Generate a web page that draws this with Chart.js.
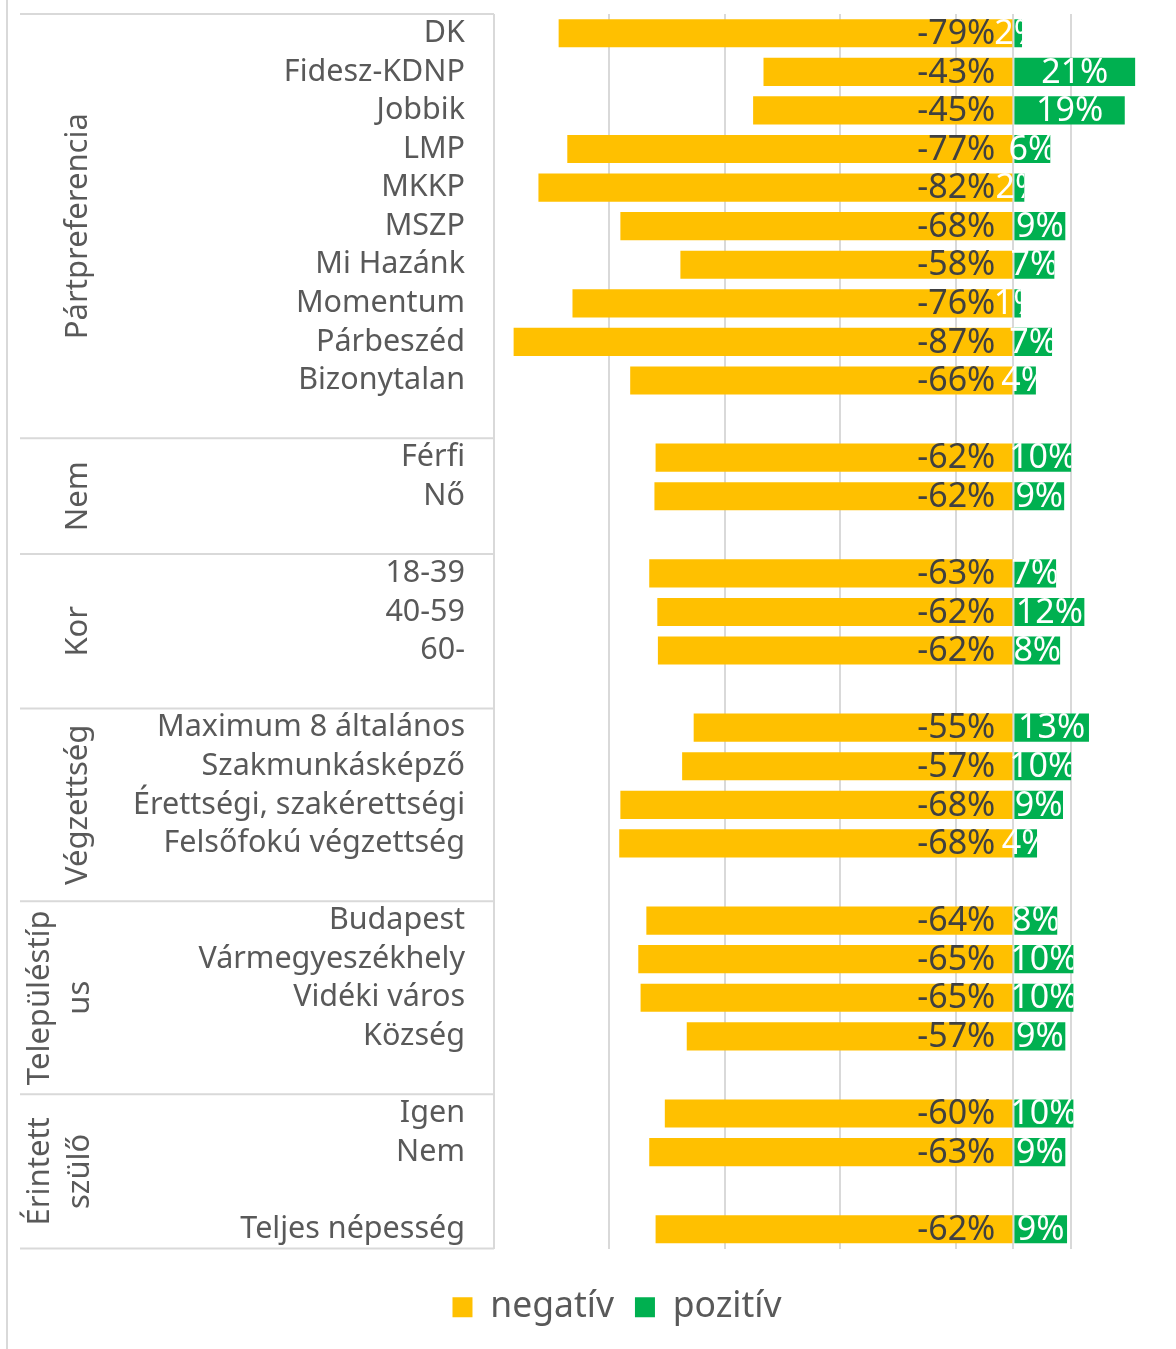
<!DOCTYPE html>
<html>
<head>
<meta charset="utf-8">
<script src="https://cdn.jsdelivr.net/npm/chart.js@4.4.1/dist/chart.umd.min.js"></script>
<style>
  html, body { margin: 0; padding: 0; background: #fff; }
  #wrap { width: 1176px; height: 1349px; }
</style>
</head>
<body>
<div id="wrap"><canvas id="chart" width="1176" height="1349"></canvas></div>
<script>
const categories = [
  'DK', 'Fidesz-KDNP', 'Jobbik', 'LMP', 'MKKP', 'MSZP', 'Mi Hazánk', 'Momentum', 'Párbeszéd', 'Bizonytalan', '',
  'Férfi', 'Nő', '',
  '18-39', '40-59', '60-', '',
  'Maximum 8 általános', 'Szakmunkásképző', 'Érettségi, szakérettségi', 'Felsőfokú végzettség', '',
  'Budapest', 'Vármegyeszékhely', 'Vidéki város', 'Község', '',
  'Igen', 'Nem', '',
  'Teljes népesség',
];

const negativ = [
  -78.8, -43.3, -45.1, -77.3, -82.3, -68.1, -57.7, -76.4, -86.6, -66.4, null,
  -62.0, -62.2, null,
  -63.1, -61.7, -61.6, null,
  -55.4, -57.4, -68.1, -68.3, null,
  -63.6, -65.0, -64.6, -56.6, null,
  -60.4, -63.1, null,
  -62.0,
];

const pozitiv = [
  1.5, 21.1, 19.3, 6.4, 1.9, 9.0, 7.1, 1.3, 6.7, 3.9, null,
  10.0, 8.8, null,
  7.4, 12.3, 8.1, null,
  13.1, 10.0, 8.6, 4.1, null,
  7.6, 10.4, 10.4, 9.0, null,
  10.4, 9.0, null,
  9.3,
];

// group captions (multi-line where Excel wrapped them) and the rows they cover
const groupNames  = [['Pártpreferencia'], ['Nem'], ['Kor'], ['Végzettség'], ['Településtíp', 'us'], ['Érintett', 'szülő']];
const groupStarts = [0, 11, 14, 18, 23, 28];
const groupEnds   = [11, 14, 18, 23, 28, 32];

const xTicks = [-90, -70, -50, -30, -10, 0, 10];

const FONT   = '"Noto Sans", "Open Sans", sans-serif';
const GRID   = '#d9d9d9';
const TEXT   = '#595959';
const YELLOW = '#FFC000';
const GREEN  = '#00B050';

const pct = (v) => Math.round(Math.abs(v)) + '%';

const barLabels = {
  id: 'barLabels',
  afterDatasetsDraw(chart) {
    const ctx = chart.ctx;
    ctx.save();
    ctx.font = `34px ${FONT}`;
    ctx.textBaseline = 'middle';

    chart.getDatasetMeta(0).data.forEach((bar, i) => {
      if (negativ[i] == null) return;
      ctx.fillStyle = '#404040';
      ctx.textAlign = 'right';
      ctx.fillText('-' + pct(negativ[i]), bar.base - 17, bar.y + 1);
    });

    chart.getDatasetMeta(1).data.forEach((bar, i) => {
      if (pozitiv[i] == null) return;
      ctx.save();
      ctx.beginPath();
      ctx.rect(0, bar.y - 30, bar.x, 60);
      ctx.clip();
      ctx.fillStyle = '#fff';
      ctx.textAlign = 'center';
      ctx.fillText(pct(pozitiv[i]), (bar.base + bar.x) / 2, bar.y + 1);
      ctx.restore();
    });
    ctx.restore();
  },
};

const groupPanel = {
  id: 'groupPanel',
  afterDraw(chart) {
    const ctx = chart.ctx;
    const area = chart.chartArea;
    const rowH = (area.bottom - area.top) / categories.length;
    const edge = (r) => area.top + r * rowH;

    ctx.save();
    ctx.strokeStyle = GRID;
    ctx.lineWidth = 2;

    // outer frame line on the left
    ctx.beginPath();
    ctx.moveTo(7, 0);
    ctx.lineTo(7, chart.height);
    ctx.stroke();

    const seps = [0].concat(groupEnds);
    seps.forEach((r) => {
      ctx.beginPath();
      ctx.moveTo(20, edge(r));
      ctx.lineTo(area.left, edge(r));
      ctx.stroke();
    });

    ctx.fillStyle = TEXT;
    ctx.font = `31px ${FONT}`;
    ctx.textAlign = 'center';
    ctx.textBaseline = 'middle';
    groupNames.forEach((lines, g) => {
      const yc = (edge(groupStarts[g]) + edge(groupEnds[g])) / 2;
      const xs = lines.length === 1 ? [78] : [40, 80];
      lines.forEach((txt, k) => {
        ctx.save();
        ctx.translate(xs[k], yc);
        ctx.rotate(-Math.PI / 2);
        ctx.fillText(txt, 0, 0);
        ctx.restore();
      });
    });
    ctx.restore();
  },
};

const shiftLegend = {
  id: 'shiftLegend',
  afterLayout(chart) {
    chart.legend.left += 29;
    chart.legend.right += 29;
  },
};

new Chart(document.getElementById('chart'), {
  type: 'bar',
  data: {
    labels: categories,
    datasets: [
      { label: 'negatív', data: negativ, backgroundColor: YELLOW, borderWidth: 0 },
      { label: 'pozitív', data: pozitiv, backgroundColor: GREEN, borderWidth: 0 },
    ],
  },
  options: {
    indexAxis: 'y',
    responsive: false,
    animation: false,
    events: [],
    barPercentage: 0.73,
    categoryPercentage: 1,
    layout: { padding: { top: 14, left: 0, right: 0, bottom: 14 } },
    plugins: {
      legend: {
        position: 'bottom',
        labels: {
          boxWidth: 20,
          boxHeight: 20,
          padding: 21,
          color: TEXT,
          font: { family: FONT, size: 35.5 },
        },
      },
      tooltip: { enabled: false },
    },
    scales: {
      x: {
        stacked: true,
        min: -90,
        max: 28.18,
        afterBuildTicks: (s) => { s.ticks = xTicks.map((v) => ({ value: v })); },
        afterFit: (s) => { s.height = 20; },
        ticks: { display: false },
        grid: { color: GRID, lineWidth: 2, drawTicks: false },
        border: { display: false },
      },
      y: {
        stacked: true,
        afterFit: (s) => {
          s.width = 494;
          s.paddingTop = 0;
          s.paddingBottom = 0;
        },
        ticks: {
          autoSkip: false,
          padding: 29,
          color: TEXT,
          font: { family: FONT, size: 30.5 },
        },
        grid: { display: false, drawTicks: false },
        border: { display: false },
      },
    },
  },
  plugins: [barLabels, groupPanel, shiftLegend],
});
</script>
</body>
</html>
